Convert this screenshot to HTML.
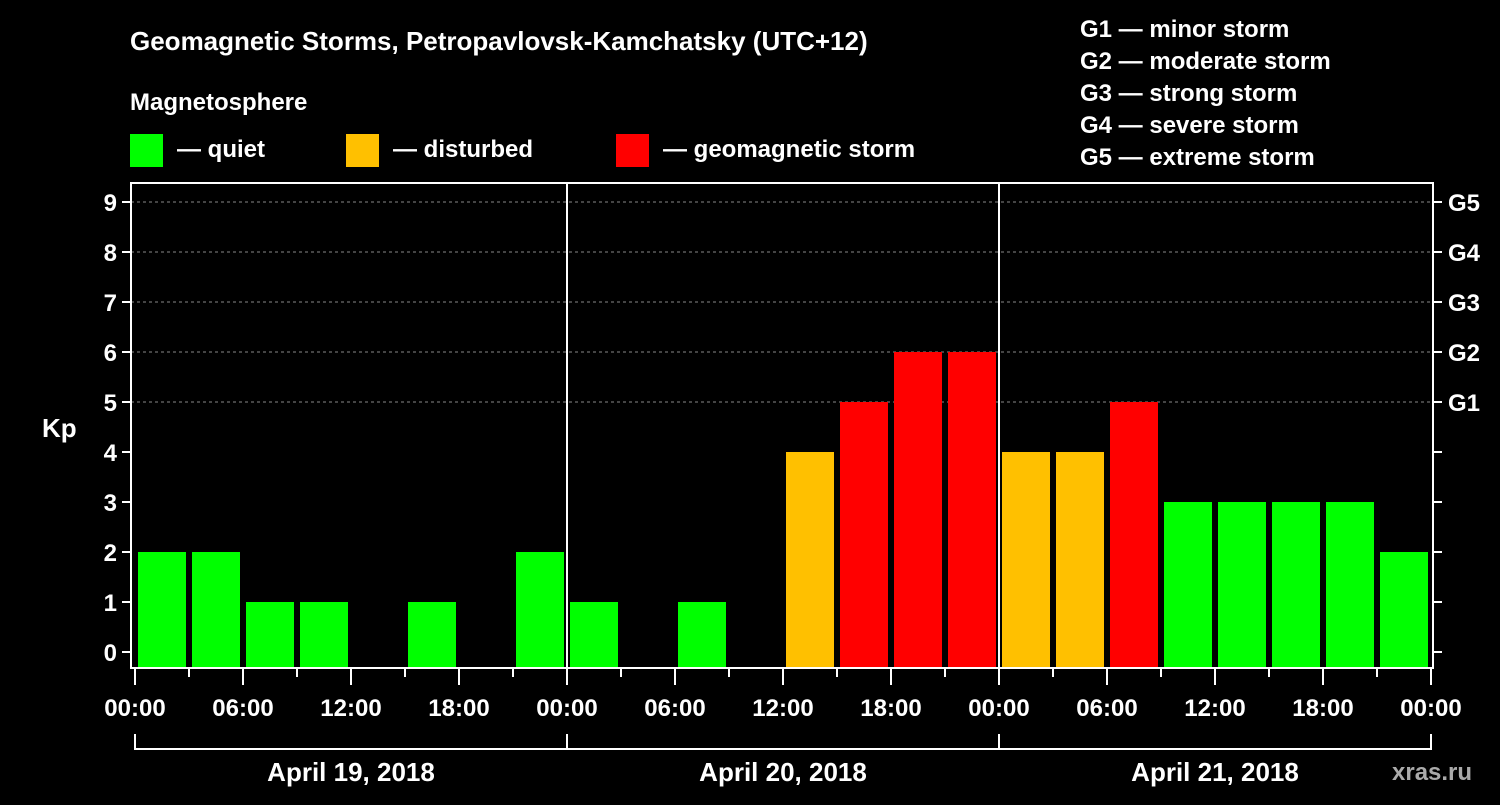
<!DOCTYPE html>
<html><head><meta charset="utf-8"><style>
body{margin:0;background:#000;}
svg text{font-family:"Liberation Sans",sans-serif;font-weight:bold;fill:#fff;}
</style></head><body>
<svg id="c" width="1500" height="800" xmlns="http://www.w3.org/2000/svg">
<rect width="1500" height="800" fill="#000"/>
<text x="130" y="50" font-size="26">Geomagnetic Storms, Petropavlovsk-Kamchatsky (UTC+12)</text>
<text x="130" y="110" font-size="24">Magnetosphere</text>
<g><rect x="130" y="134" width="33" height="33" fill="#00ff00"/><text x="177" y="157" font-size="24">— quiet</text></g>
<g><rect x="346" y="134" width="33" height="33" fill="#ffc000"/><text x="393" y="157" font-size="24">— disturbed</text></g>
<g><rect x="616" y="134" width="33" height="33" fill="#ff0000"/><text x="663" y="157" font-size="24">— geomagnetic storm</text></g>
<g font-size="24">
<text x="1080" y="37">G1 — minor storm</text><text x="1080" y="69">G2 — moderate storm</text><text x="1080" y="101">G3 — strong storm</text><text x="1080" y="133">G4 — severe storm</text><text x="1080" y="165">G5 — extreme storm</text></g>
<text x="42" y="437" font-size="26">Kp</text>
<text x="1392" y="780" font-size="24" fill="#aaa" style="fill:#aaa">xras.ru</text>
<g id="plot"></g>
</svg>
<script>
const kpValues=[2,2,1,1,0,1,0,2, 1,0,1,0,4,5,6,6, 4,4,5,3,3,3,3,2];
const dayLabels=["April 19, 2018","April 20, 2018","April 21, 2018"];
const hourLabels=["00:00","06:00","12:00","18:00"];
const gLabels=["G1","G2","G3","G4","G5"];
const yTicks=[0,1,2,3,4,5,6,7,8,9];
const NS="http://www.w3.org/2000/svg";
const g=document.getElementById('plot');
const X0=135,SLOT=54,Y0=652,UNIT=50,BOT=667,L=131,R=1433,T=183;
const x=i=>X0+i*SLOT;
const y=v=>Y0-v*UNIT;
function mk(t,a){const e=document.createElementNS(NS,t);for(const k in a)e.setAttribute(k,a[k]);g.appendChild(e);return e;}
// grid
for(const v of yTicks){
 if(v>=5){const e=mk('line',{x1:L,x2:R,y1:y(v),y2:y(v),stroke:'#888','stroke-dasharray':'3,3','stroke-width':1});
 
 }
 const t=mk('line',{x1:L-9,x2:L,y1:y(v),y2:y(v),stroke:'#fff','stroke-width':2});
 
 
 const t2=mk('line',{x1:R,x2:R+9,y1:y(v),y2:y(v),stroke:'#fff','stroke-width':2});
 
 
 const lb=mk('text',{x:L-14,y:y(v)+9,'font-size':24,'text-anchor':'end'});lb.textContent=v;
 
 
 if(v>=5){const gl=mk('text',{x:R+15,y:y(v)+9,'font-size':24});gl.textContent=gLabels[v-5];
 
 }
}
// bars
kpValues.forEach((v,i)=>{
 if(v<=0)return;
 const col=v>=5?'#ff0000':(v>=4?'#ffc000':'#00ff00');
 const b=mk('rect',{x:x(i)+3,y:y(v),width:SLOT-6,height:BOT-y(v),fill:col});
 
 
});
// frame
const f=mk('rect',{x:L,y:T,width:R-L,height:BOT+1-T,fill:'none',stroke:'#fff','stroke-width':2});


for(let d=1;d<3;d++){const s=mk('line',{x1:x(d*8),x2:x(d*8),y1:T,y2:BOT,stroke:'#fff','stroke-width':2});
 
 }
// x ticks
for(let i=0;i<=24;i++){
 const major=i%2===0;
 const t=mk('line',{x1:x(i),x2:x(i),y1:BOT+1,y2:BOT+(major?18:10),stroke:'#fff','stroke-width':2});
 
 
 if(major){const lb=mk('text',{x:x(i),y:716,'font-size':24,'text-anchor':'middle'});
 lb.textContent=hourLabels[(i/2)%4];
 
 }
}
// day brackets
dayLabels.forEach((d,k)=>{
 const p=mk('path',{d:`M${x(k*8)} 734 V749 H${x(k*8+8)} V734`,fill:'none',stroke:'#fff','stroke-width':2});
 
 
 const t=mk('text',{x:(x(k*8)+x(k*8+8))/2,y:781,'font-size':26,'text-anchor':'middle'});t.textContent=d;
 
 
});
</script>
</body></html>
